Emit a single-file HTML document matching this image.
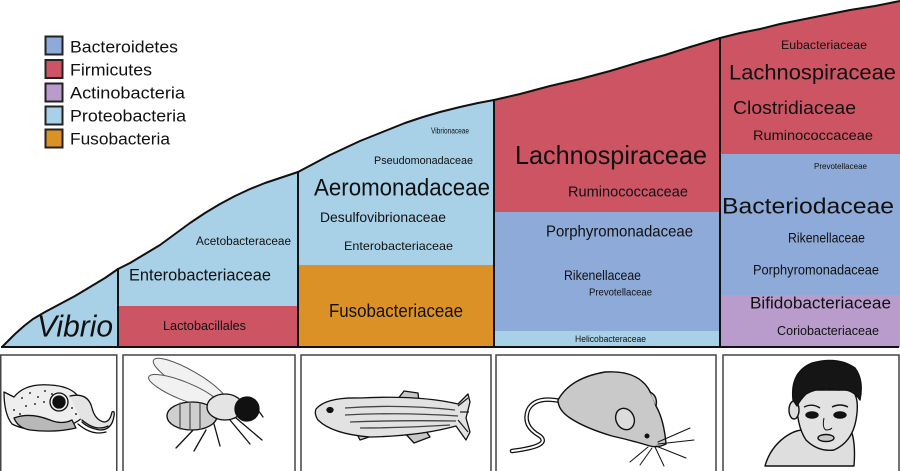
<!DOCTYPE html>
<html><head><meta charset="utf-8"><style>
html,body{margin:0;padding:0;background:#fff;}
svg{display:block;}
text{font-family:"Liberation Sans",sans-serif;fill:#111;}
</style></head><body>
<svg width="900" height="471" viewBox="0 0 900 471" xmlns="http://www.w3.org/2000/svg">
<defs>
<clipPath id="area">
<path d="M2,347 L8,341 L15,334 L24,326 L33,319 L45,312 L60,304 L75,296 L90,287 L105,278 L118,269 L130,263 L145,254 L160,245 L175,234 L190,223 L205,213 L220,204 L235,196 L250,189 L265,183 L280,178 L298,172 L315,163 L330,155 L345,148 L360,141 L375,135 L390,129 L405,123 L423,117 L440,112 L460,107 L478,103 L494,100 L520,94 L550,86 L580,79 L610,71 L640,62 L665,55 L690,47 L720,38 L740,33 L760,29 L780,24 L800,20 L825,15 L850,10 L875,6 L900,1 L900,347 Z"/>
</clipPath>
</defs>
<rect width="900" height="471" fill="#fff"/>

<!-- legend -->
<rect x="45.5" y="36.5" width="17" height="18" fill="#8eaad8" stroke="#222" stroke-width="2"/>
<rect x="45.5" y="60" width="17" height="18" fill="#cd5563" stroke="#222" stroke-width="2"/>
<rect x="45.5" y="83.5" width="17" height="18" fill="#b99ccb" stroke="#222" stroke-width="2"/>
<rect x="45.5" y="106.5" width="17" height="18" fill="#a8d1e8" stroke="#222" stroke-width="2"/>
<rect x="45.5" y="129.5" width="17" height="18" fill="#dc9127" stroke="#222" stroke-width="2"/>
<text x="70" y="47" font-size="17" dominant-baseline="central" textLength="108" lengthAdjust="spacingAndGlyphs">Bacteroidetes</text>
<text x="70" y="70" font-size="17" dominant-baseline="central" textLength="82" lengthAdjust="spacingAndGlyphs">Firmicutes</text>
<text x="70" y="93" font-size="17" dominant-baseline="central" textLength="115" lengthAdjust="spacingAndGlyphs">Actinobacteria</text>
<text x="70" y="116" font-size="17" dominant-baseline="central" textLength="116" lengthAdjust="spacingAndGlyphs">Proteobacteria</text>
<text x="70" y="139" font-size="17" dominant-baseline="central" textLength="100" lengthAdjust="spacingAndGlyphs">Fusobacteria</text>

<!-- colored bands -->
<g clip-path="url(#area)">
<rect x="0" y="0" width="118" height="347" fill="#a8d1e8"/>
<rect x="118" y="0" width="180" height="306" fill="#a8d1e8"/>
<rect x="118" y="306" width="180" height="41" fill="#cd5563"/>
<rect x="298" y="0" width="196" height="265" fill="#a8d1e8"/>
<rect x="298" y="265" width="196" height="82" fill="#dc9127"/>
<rect x="494" y="0" width="226" height="212" fill="#cd5563"/>
<rect x="494" y="212" width="226" height="119" fill="#8eaad8"/>
<rect x="494" y="331" width="226" height="16" fill="#a8d1e8"/>
<rect x="720" y="0" width="180" height="154" fill="#cd5563"/>
<rect x="720" y="154" width="180" height="141" fill="#8eaad8"/>
<rect x="720" y="295" width="180" height="52" fill="#b99ccb"/>
</g>
<!-- outlines -->
<path fill="none" stroke="#111" stroke-width="2" stroke-linejoin="round" d="M2,347 L8,341 L15,334 L24,326 L33,319 L45,312 L60,304 L75,296 L90,287 L105,278 L118,269 L130,263 L145,254 L160,245 L175,234 L190,223 L205,213 L220,204 L235,196 L250,189 L265,183 L280,178 L298,172 L315,163 L330,155 L345,148 L360,141 L375,135 L390,129 L405,123 L423,117 L440,112 L460,107 L478,103 L494,100 L520,94 L550,86 L580,79 L610,71 L640,62 L665,55 L690,47 L720,38 L740,33 L760,29 L780,24 L800,20 L825,15 L850,10 L875,6 L900,1"/>
<line x1="1" y1="347" x2="899" y2="347" stroke="#111" stroke-width="2"/>
<line x1="118" y1="268" x2="118" y2="347" stroke="#111" stroke-width="2"/>
<line x1="298" y1="171" x2="298" y2="347" stroke="#111" stroke-width="2"/>
<line x1="494" y1="99" x2="494" y2="347" stroke="#111" stroke-width="2"/>
<line x1="720" y1="37" x2="720" y2="347" stroke="#111" stroke-width="2"/>

<!-- column labels -->
<text x="37" y="326" font-size="31" font-style="italic" dominant-baseline="central" textLength="76" lengthAdjust="spacingAndGlyphs">Vibrio</text>

<text x="196" y="242" font-size="11.5" dominant-baseline="central" textLength="95" lengthAdjust="spacingAndGlyphs">Acetobacteraceae</text>
<text x="129" y="275" font-size="17" dominant-baseline="central" textLength="142" lengthAdjust="spacingAndGlyphs">Enterobacteriaceae</text>
<text x="163" y="326" font-size="12.5" dominant-baseline="central" textLength="83" lengthAdjust="spacingAndGlyphs">Lactobacillales</text>

<text x="431" y="131" font-size="8" dominant-baseline="central" textLength="38" lengthAdjust="spacingAndGlyphs">Vibrionaceae</text>
<text x="374" y="161" font-size="11" dominant-baseline="central" textLength="99" lengthAdjust="spacingAndGlyphs">Pseudomonadaceae</text>
<text x="314" y="188" font-size="24" dominant-baseline="central" textLength="176" lengthAdjust="spacingAndGlyphs">Aeromonadaceae</text>
<text x="320" y="217" font-size="14" dominant-baseline="central" textLength="126" lengthAdjust="spacingAndGlyphs">Desulfovibrionaceae</text>
<text x="344" y="246" font-size="12" dominant-baseline="central" textLength="109" lengthAdjust="spacingAndGlyphs">Enterobacteriaceae</text>
<text x="329" y="311" font-size="18" dominant-baseline="central" textLength="134" lengthAdjust="spacingAndGlyphs">Fusobacteriaceae</text>

<text x="515" y="155" font-size="26" dominant-baseline="central" textLength="192" lengthAdjust="spacingAndGlyphs">Lachnospiraceae</text>
<text x="568" y="192" font-size="15" dominant-baseline="central" textLength="120" lengthAdjust="spacingAndGlyphs">Ruminococcaceae</text>
<text x="546" y="232" font-size="16" dominant-baseline="central" textLength="147" lengthAdjust="spacingAndGlyphs">Porphyromonadaceae</text>
<text x="564" y="275" font-size="14" dominant-baseline="central" textLength="77" lengthAdjust="spacingAndGlyphs">Rikenellaceae</text>
<text x="589" y="293" font-size="10" dominant-baseline="central" textLength="63" lengthAdjust="spacingAndGlyphs">Prevotellaceae</text>
<text x="575" y="339" font-size="9" dominant-baseline="central" textLength="71" lengthAdjust="spacingAndGlyphs">Helicobacteraceae</text>

<text x="781" y="46" font-size="11.5" dominant-baseline="central" textLength="86" lengthAdjust="spacingAndGlyphs">Eubacteriaceae</text>
<text x="729" y="73" font-size="21" dominant-baseline="central" textLength="167" lengthAdjust="spacingAndGlyphs">Lachnospiraceae</text>
<text x="733" y="108" font-size="18" dominant-baseline="central" textLength="123" lengthAdjust="spacingAndGlyphs">Clostridiaceae</text>
<text x="753" y="135" font-size="14" dominant-baseline="central" textLength="120" lengthAdjust="spacingAndGlyphs">Ruminococcaceae</text>
<text x="814" y="166" font-size="8.5" dominant-baseline="central" textLength="53" lengthAdjust="spacingAndGlyphs">Prevotellaceae</text>
<text x="722" y="206" font-size="22" dominant-baseline="central" textLength="172" lengthAdjust="spacingAndGlyphs">Bacteriodaceae</text>
<text x="788" y="238" font-size="13.5" dominant-baseline="central" textLength="77" lengthAdjust="spacingAndGlyphs">Rikenellaceae</text>
<text x="753" y="270" font-size="13.5" dominant-baseline="central" textLength="126" lengthAdjust="spacingAndGlyphs">Porphyromonadaceae</text>
<text x="750" y="303" font-size="17" dominant-baseline="central" textLength="141" lengthAdjust="spacingAndGlyphs">Bifidobacteriaceae</text>
<text x="777" y="331" font-size="12.5" dominant-baseline="central" textLength="102" lengthAdjust="spacingAndGlyphs">Coriobacteriaceae</text>

<!-- image boxes -->
<g fill="#fff" stroke="#444" stroke-width="1.5">
<rect x="0.75" y="355" width="116" height="118"/>
<rect x="123" y="355" width="172" height="118"/>
<rect x="301" y="355" width="190" height="118"/>
<rect x="496" y="355" width="220" height="118"/>
<rect x="723" y="355" width="176" height="118"/>
</g>

<!-- squid -->
<g stroke="#111" stroke-width="1.3" stroke-linejoin="round" stroke-linecap="round">
<path d="M4,392 L14,397 Q25,383 50,385 Q70,386 78,396 Q86,404 82,418 Q70,428 50,430 Q25,431 12,424 Q4,414 4,392 Z" fill="#eeeeee"/>
<path d="M14,418 Q30,412 50,420 Q62,425 72,420 L76,428 Q55,433 30,430 Q18,428 14,418 Z" fill="#b8b8b8"/>
<path d="M70,396 Q88,392 92,408 Q95,420 104,422 Q110,422 112,412 Q115,410 114,416 Q112,430 100,430 Q88,428 82,422" fill="#e4e4e4"/>
<path d="M82,420 Q96,432 108,426" fill="none"/>
<path d="M78,424 Q92,436 106,432" fill="none"/>
<circle cx="59" cy="402" r="6" fill="#111"/>
<circle cx="59" cy="402" r="9" fill="none"/>
</g>
<g fill="#333">
<circle cx="22" cy="398" r="1"/><circle cx="30" cy="393" r="1"/><circle cx="38" cy="397" r="1"/><circle cx="45" cy="391" r="1"/><circle cx="26" cy="406" r="1"/><circle cx="35" cy="404" r="1"/><circle cx="14" cy="410" r="1"/><circle cx="44" cy="402" r="1"/><circle cx="52" cy="394" r="1"/><circle cx="72" cy="408" r="1"/><circle cx="76" cy="414" r="1"/><circle cx="20" cy="414" r="1"/>
</g>

<!-- fly -->
<g stroke="#555" stroke-width="1" fill="#f1f1f1">
<ellipse cx="190" cy="381" rx="42" ry="10" transform="rotate(30 190 381)"/>
<ellipse cx="184" cy="391" rx="38" ry="9" transform="rotate(22 184 391)"/>
</g>
<g stroke="#111" stroke-width="1.3" stroke-linecap="round">
<line x1="196" y1="427" x2="176" y2="448"/>
<line x1="206" y1="430" x2="194" y2="451"/>
<line x1="214" y1="424" x2="220" y2="446"/>
<line x1="236" y1="418" x2="262" y2="440"/>
<line x1="230" y1="420" x2="250" y2="444"/>
<ellipse cx="192" cy="416" rx="25" ry="14" fill="#cfcfcf"/>
<path d="M180,403 L180,429 M190,402 L190,430 M200,403 L200,429" fill="none" stroke="#555"/>
<ellipse cx="225" cy="407" rx="18" ry="13" fill="#e4e4e4"/>
<circle cx="247" cy="409" r="12" fill="#111"/>
<line x1="258" y1="410" x2="263" y2="417"/>
</g>

<!-- fish -->
<g stroke="#111" stroke-width="1.3" stroke-linejoin="round">
<path d="M397,400 L404,391 L418,393 L419,402 Z" fill="#c8c8c8"/>
<path d="M402,430 L414,443 L430,437 L424,428 Z" fill="#c8c8c8"/>
<path d="M355,430 L360,440 L372,436 Z" fill="#c8c8c8"/>
<path d="M316,409 Q326,397 360,398 Q420,395 458,404 L468,394 L470,402 L466,418 L470,432 L466,440 L456,426 Q420,436 370,437 Q332,434 318,420 Q314,414 316,409 Z" fill="#e2e2e2"/>
<path d="M345,408 Q400,404 455,410 M345,415 Q400,412 458,416 M350,422 Q400,420 456,421 M360,428 Q400,428 450,425" fill="none" stroke="#444"/>
<ellipse cx="330" cy="410" rx="3" ry="2.5" fill="#111"/>
<path d="M458,406 L468,398 M458,420 L468,432 M460,412 L469,412" stroke="#222"/>
</g>

<!-- mouse -->
<g stroke="#111" stroke-width="1.4" stroke-linejoin="round" stroke-linecap="round">
<path d="M560,401 Q535,396 528,410 Q522,426 540,436 Q552,446 512,451" fill="none" stroke-width="4.5"/>
<path d="M560,401 Q535,396 528,410 Q522,426 540,436 Q552,446 512,451" fill="none" stroke="#fff" stroke-width="2"/>
<path d="M558,400 Q570,378 605,372 Q636,370 648,388 Q654,398 656,406 Q664,420 666,444 Q658,448 650,446 Q630,440 612,436 Q585,428 570,418 Q558,410 558,400 Z" fill="#c9c9c9"/>
<path d="M650,392 Q658,396 656,406" fill="#c9c9c9"/>
<ellipse cx="625" cy="419" rx="9" ry="11" transform="rotate(-25 625 419)" fill="#dcdcdc"/>
<circle cx="647" cy="436" r="1.8" fill="#111"/>
<path d="M658,442 L690,428 M658,444 L694,440 M656,446 L686,458 M652,448 L640,465 M648,447 L630,462 M655,447 L664,466" fill="none" stroke-width="1"/>
</g>

<!-- child -->
<g stroke="#111" stroke-width="1.4" stroke-linejoin="round">
<path d="M765,466 Q770,448 785,437 Q795,430 803,430 L850,428 Q856,440 854,466 Z" fill="#dedede"/>
<path d="M797,398 Q796,425 806,440 Q818,452 834,450 Q852,442 856,420 Q860,398 852,390 L800,390 Z" fill="#e2e2e2"/>
<ellipse cx="794" cy="410" rx="5" ry="9" fill="#dedede"/>
<path d="M793,400 Q790,372 812,363 Q838,356 855,368 Q864,380 860,400 Q852,388 838,390 Q820,386 806,394 Q800,400 797,406 Z" fill="#151515"/>
<ellipse cx="812" cy="415" rx="6" ry="3" fill="#111"/>
<ellipse cx="840" cy="415" rx="6" ry="3" fill="#111"/>
<path d="M804,407 Q812,403 820,408 M832,407 Q840,403 848,407" fill="none"/>
<path d="M824,418 Q822,428 826,430 Q830,430 832,428" fill="none" stroke-width="1"/>
<ellipse cx="826" cy="438" rx="8" ry="3.5" fill="#c8c8c8"/>
</g>
</svg>
</body></html>
